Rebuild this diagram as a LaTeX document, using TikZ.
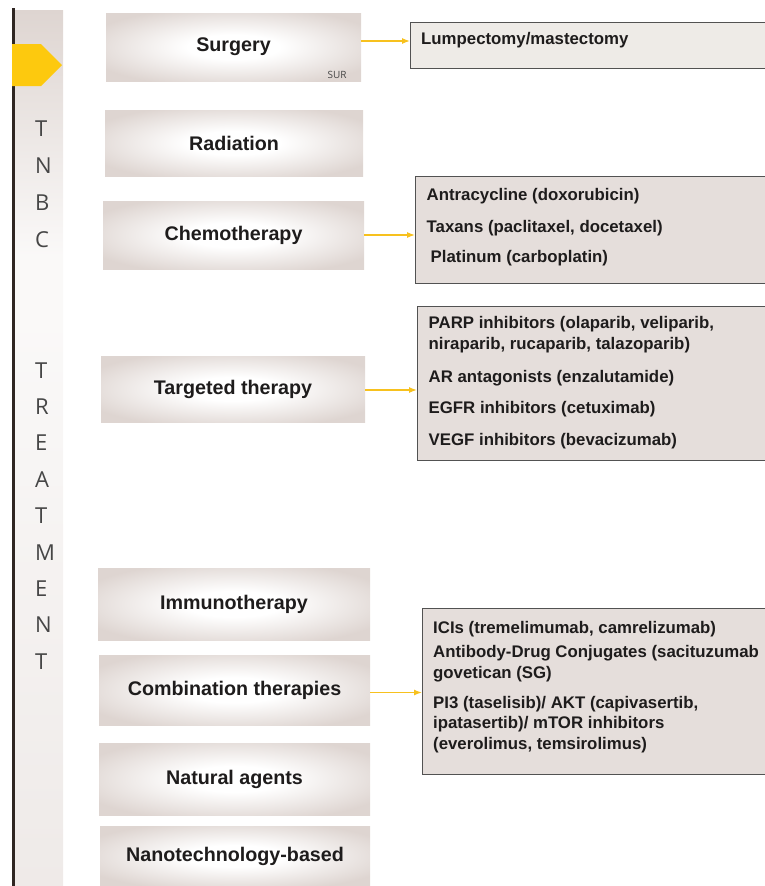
\documentclass[tikz,border=0pt]{standalone}
\usepackage{fontspec}
\setmainfont{Liberation Sans}
\newfontfamily\letterfont{Open Sans}
\usetikzlibrary{arrows.meta}

\definecolor{boxgrey}{RGB}{222,213,209}
\definecolor{listgrey}{RGB}{229,222,219}
\definecolor{lumpgrey}{RGB}{238,235,231}
\definecolor{markeryellow}{RGB}{253,201,14}
\definecolor{arrowyellow}{RGB}{247,193,30}
\definecolor{barbrown}{RGB}{47,38,34}
\definecolor{lettergrey}{RGB}{70,70,70}
\definecolor{labelblack}{RGB}{30,28,28}

% white middle, grey rim
\pgfdeclareradialshading{treatshade}{\pgfpoint{0bp}{0bp}}{color(0bp)=(white); color(9bp)=(white); color(30bp)=(boxgrey); color(50bp)=(boxgrey)}
% side column: grey top, pale middle, light grey bottom
\pgfdeclareverticalshading{sideshade}{100bp}{color(0bp)=(boxgrey!50); color(25bp)=(boxgrey!50); color(57bp)=(boxgrey!15); color(61bp)=(boxgrey!15); color(75bp)=(boxgrey); color(100bp)=(boxgrey)}

\tikzset{
    treatbox/.style={rectangle, shade, shading=treatshade, inner sep=0pt, text=labelblack,
        font=\fontsize{19.7}{23}\selectfont\bfseries},
    listbox/.style={rectangle, anchor=north west, fill=listgrey, draw=black!68, line width=1.2pt, inner sep=0pt},
    listtext/.style={anchor=base west, inner sep=0pt, text=labelblack, font=\fontsize{16.8}{19}\selectfont\bfseries},
    sideletter/.style={anchor=base west, inner sep=0pt, text=lettergrey, font=\letterfont\fontsize{22}{24}\selectfont},
    feed/.style={draw=arrowyellow, line width=1.3pt, -{Latex[length=8pt, width=6pt]}}
}

\begin{document}
\begin{tikzpicture}[x=1pt, y=-1pt]
    \useasboundingbox (0,0) rectangle (764,886);

    %% side column with the marker
    \shade[shading=sideshade] (15,10) rectangle (63,886);
    \draw[barbrown, line width=3pt] (13.5,8) -- (13.5,886);
    \fill[markeryellow] (12,44) -- (41,44) -- (62,65) -- (41,86) -- (12,86) -- cycle;

    \foreach \ch [count=\i] in {T,N,B,C}
        \node[sideletter] (tnbc\i) at (35,{136+(\i-1)*37}) {\ch};
    \foreach \ch [count=\i] in {T,R,E,A,T,M,E,N,T}
        \node[sideletter] (treat\i) at (35,{378+(\i-1)*36.4}) {\ch};

    %% treatment boxes
    \node[treatbox, minimum width=255pt, minimum height=68pt] (surgery) at (233.5,47) {Surgery};
    \node[treatbox, minimum width=258pt, minimum height=66pt] (radiation) at (234,143) {Radiation};
    \node[treatbox, minimum width=261pt, minimum height=68pt] (chemo) at (233.5,235) {Chemotherapy};
    \node[treatbox, minimum width=264pt, minimum height=66pt] (targeted) at (233,389) {Targeted therapy};
    \node[treatbox, minimum width=272pt, minimum height=72pt] (immuno) at (234,604) {Immunotherapy};
    \node[treatbox, minimum width=271pt, minimum height=70pt] (combo) at (234.5,690) {Combination therapies};
    \node[treatbox, minimum width=271pt, minimum height=72pt] (natural) at (234.5,779) {Natural agents};
    \node[treatbox, minimum width=270pt, minimum height=60pt] (nano) at (235,856) {Nanotechnology-based};
    \node[inner sep=0pt, text=lettergrey, font=\letterfont\fontsize{10}{12}\selectfont] (surtag) at (337,75) {SUR};

    %% lists
    \node[listbox, fill=lumpgrey, minimum width=356pt, minimum height=46pt] (lump) at (410,22) {};
    \node[listtext] (lump1) at (421,44) {Lumpectomy/mastectomy};

    \node[listbox, minimum width=351pt, minimum height=107pt] (chemolist) at (415,176) {};
    \node[listtext] (chemo1) at (426.5,200) {Antracycline (doxorubicin)};
    \node[listtext] (chemo2) at (426.5,232) {Taxans (paclitaxel, docetaxel)};
    \node[listtext] (chemo3) at (430.5,262) {Platinum (carboplatin)};

    \node[listbox, minimum width=349pt, minimum height=154pt] (targetlist) at (417,306) {};
    \node[listtext] (target1) at (428.5,328) {PARP inhibitors (olaparib, veliparib,};
    \node[listtext] (target2) at (428.5,349) {niraparib, rucaparib, talazoparib)};
    \node[listtext] (target3) at (428.5,382) {AR antagonists (enzalutamide)};
    \node[listtext] (target4) at (428.5,413) {EGFR inhibitors (cetuximab)};
    \node[listtext] (target5) at (428.5,445) {VEGF inhibitors (bevacizumab)};

    \node[listbox, minimum width=344pt, minimum height=166pt] (combolist) at (422,608) {};
    \node[listtext] (combo1) at (433,633) {ICIs (tremelimumab, camrelizumab)};
    \node[listtext] (combo2) at (433,657) {Antibody-Drug Conjugates (sacituzumab};
    \node[listtext] (combo3) at (433,678) {govetican (SG)};
    \node[listtext] (combo4) at (433,708) {PI3 (taselisib)/ AKT (capivasertib,};
    \node[listtext] (combo5) at (433,728.5) {ipatasertib)/ mTOR inhibitors};
    \node[listtext] (combo6) at (433,749) {(everolimus, temsirolimus)};

    %% feeds
    \coordinate (surgout) at ([yshift=6pt]surgery.east);
    \coordinate (chemoout) at ([yshift=0pt]chemo.east);
    \coordinate (targetout) at ([yshift=-1pt]targeted.east);
    \coordinate (comboout) at ([yshift=-2.5pt]combo.east);
    \draw[feed] (surgout) -- (surgout -| lump.west);
    \draw[feed] (chemoout) -- (chemoout -| chemolist.west);
    \draw[feed] (targetout) -- (targetout -| targetlist.west);
    \draw[feed] (comboout) -- (comboout -| combolist.west);
\end{tikzpicture}
\end{document}
